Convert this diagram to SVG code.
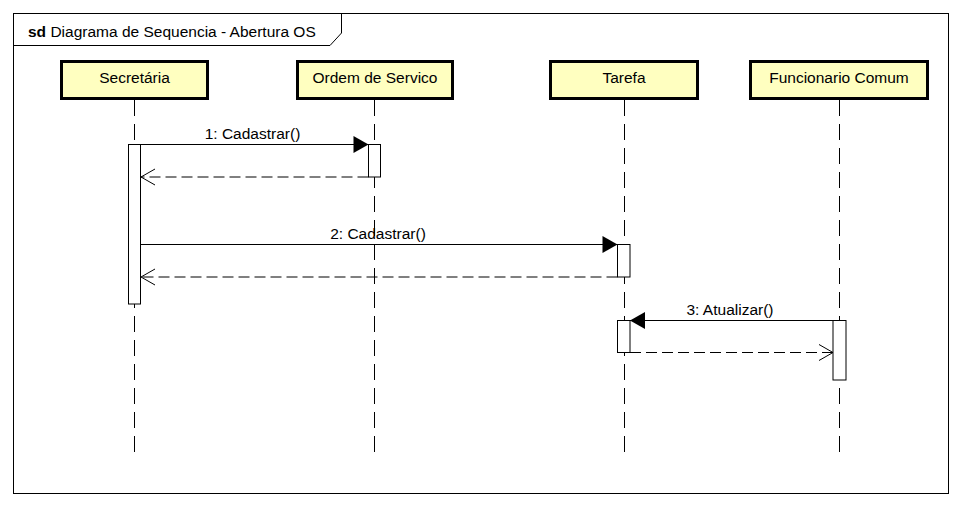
<svg xmlns="http://www.w3.org/2000/svg" width="961" height="506" viewBox="0 0 961 506">
<style>
text{font-family:"Liberation Sans",Arial,sans-serif;font-size:15.5px;fill:#000}
.box{fill:#ffffc0;stroke:#000;stroke-width:3}
.life{stroke:#000;stroke-width:1;stroke-dasharray:16,8;fill:none}
.act{fill:#fff;stroke:#000;stroke-width:1}
.msg{stroke:#000;stroke-width:1;fill:none;marker-end:url(#filled)}
.ret{stroke:#000;stroke-width:1;fill:none;stroke-dasharray:11,5;marker-end:url(#open)}
.lbl{text-anchor:middle}
</style>
<defs>
<marker id="filled" markerUnits="userSpaceOnUse" markerWidth="16" markerHeight="18" refX="15" refY="8.5" orient="auto" overflow="visible">
<path d="M0,0 L15,8.5 L0,17 z" fill="#000" stroke="none"/>
</marker>
<marker id="open" markerUnits="userSpaceOnUse" markerWidth="16" markerHeight="18" refX="14" refY="8" orient="auto" overflow="visible">
<path d="M0,0 L14,8 L0,16" fill="none" stroke="#000" stroke-width="1"/>
</marker>
</defs>
<rect width="961" height="506" fill="#fff"/>
<g id="frame">
<rect x="13.5" y="13.5" width="935" height="480" fill="none" stroke="#000" stroke-width="1"/>
<path d="M13.5,45.5 L330,45.5 L341.5,33 L341.5,13.5" fill="none" stroke="#000" stroke-width="1"/>
<text x="28" y="36.5"><tspan font-weight="bold">sd</tspan> Diagrama de Sequencia - Abertura OS</text>
</g>
<g id="lifelines">
<path class="life" d="M134.5,100 V452"/>
<path class="life" d="M374.5,100 V452"/>
<path class="life" d="M624.5,100 V452"/>
<path class="life" d="M839.5,100 V452"/>
</g>
<g id="secretaria">
<rect class="box" x="61.5" y="61.5" width="146" height="37"/>
<text class="lbl" x="134.5" y="82.5">Secretária</text>
<rect class="act" x="128.5" y="144.5" width="12" height="159.5"/>
</g>
<g id="ordem-de-servico">
<rect class="box" x="297.5" y="61.5" width="155" height="37"/>
<text class="lbl" x="375" y="82.5">Ordem de Servico</text>
<rect class="act" x="368.5" y="144.5" width="12" height="32.5"/>
</g>
<g id="tarefa">
<rect class="box" x="550.5" y="61.5" width="147" height="37"/>
<text class="lbl" x="624" y="82.5">Tarefa</text>
<rect class="act" x="617.5" y="244.5" width="12.5" height="32.5"/>
<rect class="act" x="617.5" y="320.5" width="12.5" height="32"/>
</g>
<g id="funcionario-comum">
<rect class="box" x="750.5" y="61.5" width="177" height="37"/>
<text class="lbl" x="839" y="82.5">Funcionario Comum</text>
<rect class="act" x="833" y="320.5" width="13" height="59.5"/>
</g>
<g id="connectors">
<path class="msg" d="M140.5,144.5 H368.5"/>
<text class="lbl" x="252.5" y="139">1: Cadastrar()</text>
<path class="ret" d="M368.5,177 H141"/>
<path class="msg" d="M140.5,244.5 H617.5"/>
<text class="lbl" x="378" y="239">2: Cadastrar()</text>
<path class="ret" d="M617.5,277 H141"/>
<path class="msg" d="M833,320.5 H630"/>
<text class="lbl" x="730" y="315">3: Atualizar()</text>
<path class="ret" d="M630,352.5 H833"/>
</g>
</svg>
